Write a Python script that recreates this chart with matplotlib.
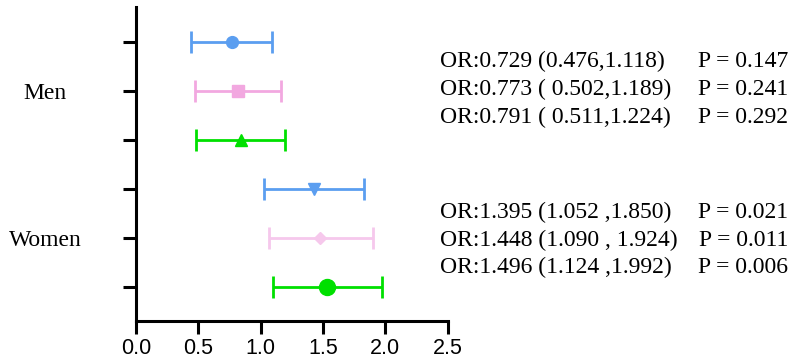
import matplotlib.pyplot as plt
import numpy as np

# Drawn estimates, top row first
or_values = [0.772, 0.818, 0.839, 1.425, 1.476, 1.534]
ci_low = [0.441, 0.470, 0.479, 1.026, 1.064, 1.096]
ci_high = [1.093, 1.163, 1.197, 1.828, 1.900, 1.970]

# Annotation texts shown to the right
or_labels = [
    "OR:0.729 (0.476,1.118)",
    "OR:0.773 ( 0.502,1.189)",
    "OR:0.791 ( 0.511,1.224)",
    "OR:1.395 (1.052 ,1.850)",
    "OR:1.448 (1.090 , 1.924)",
    "OR:1.496 (1.124 ,1.992)",
]
p_labels = ["P = 0.147", "P = 0.241", "P = 0.292", "P = 0.021", "P = 0.011", "P = 0.006"]
group_labels = ["", "Men", "", "", "Women", ""]
x_ticks = [0.0, 0.5, 1.0, 1.5, 2.0, 2.5]

COLORS = ["#5B9EF0", "#F2A8E0", "#00E000", "#5B9EF0", "#F6C8EC", "#00E000"]
MARKERS = ["o", "s", "^", "v", "D", "o"]
MSIZES = [8.5, 8.5, 8.5, 8, 6, 11.5]

fig = plt.figure(figsize=(7.97, 3.63), dpi=100)
ax = fig.add_axes([0.1706, 0.1165, 0.391, 0.864])

rows = np.arange(len(or_values))
for i in rows:
    ax.errorbar(
        or_values[i],
        i,
        xerr=[[or_values[i] - ci_low[i]], [ci_high[i] - or_values[i]]],
        fmt=MARKERS[i],
        color=COLORS[i],
        markersize=MSIZES[i],
        elinewidth=2,
        capsize=8,
        capthick=2,
        clip_on=False,
    )

ax.set_xlim(0, 2.5)
ax.set_ylim(len(or_values) - 1 + 0.68, -0.705)
ax.set_xticks(x_ticks)
ax.set_xticklabels([f"{t:.1f}" for t in x_ticks], family="Liberation Sans", fontsize=15.5)
ax.set_yticks(rows)
ax.set_yticklabels(group_labels, family="Liberation Serif", fontsize=17, ha="center")

for side in ["top", "right"]:
    ax.spines[side].set_visible(False)
for side in ["left", "bottom"]:
    ax.spines[side].set_linewidth(2.2)
ax.tick_params(axis="both", width=2.2, length=9.5, color="black")
ax.tick_params(axis="y", pad=56)
ax.tick_params(axis="x", pad=3)

# Text block on the right: baselines in pixels from the top
text_base = [67, 95, 123, 218, 246, 273]
for i in rows:
    y_fig = 1 - text_base[i] / 363
    fig.text(440 / 797, y_fig, or_labels[i], family="Liberation Serif", fontsize=17, ha="left", va="baseline")
    fig.text(788 / 797, y_fig, p_labels[i], family="Liberation Serif", fontsize=17, ha="right", va="baseline")

fig.savefig("out.png", dpi=100)
